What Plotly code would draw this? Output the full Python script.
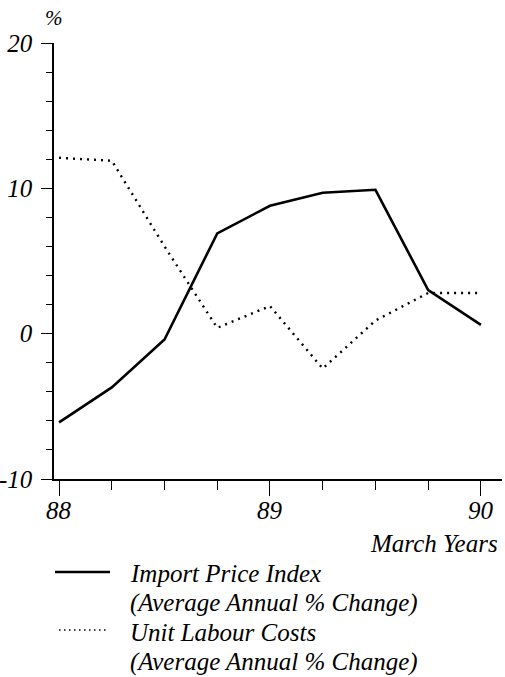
import plotly.graph_objects as go

# Data (quarterly, March years)
quarters = [88.0, 88.25, 88.5, 88.75, 89.0, 89.25, 89.5, 89.75, 90.0]
import_price_index = [-6.1, -3.7, -0.4, 6.9, 8.8, 9.7, 9.9, 3.0, 0.6]
unit_labour_costs = [12.1, 11.9, 6.0, 0.4, 1.9, -2.4, 0.9, 2.8, 2.8]

series_names = ["Import Price Index", "Unit Labour Costs"]
legend_sub = "(Average Annual % Change)"
y_tick_vals = [-10, 0, 10, 20]
y_tick_text = ["-10", "0", "10", "20"]
x_tick_vals = [88, 89, 90]
x_tick_text = ["88", "89", "90"]

FONT = "Liberation Serif"
W, H = 505, 677
ML, MR, MT, MB = 54, 3, 43, 198

fig = go.Figure()
fig.add_trace(go.Scatter(x=quarters, y=import_price_index, mode="lines",
                         line=dict(color="black", width=2.6), name=series_names[0],
                         showlegend=False))
fig.add_trace(go.Scatter(x=quarters, y=unit_labour_costs, mode="lines",
                         line=dict(color="black", width=2.4, dash="2px,5px"),
                         name=series_names[1], showlegend=False))

fig.update_layout(
    width=W, height=H,
    margin=dict(l=ML, r=MR, t=MT, b=MB, autoexpand=False),
    paper_bgcolor="white", plot_bgcolor="white",
    font=dict(family=FONT, color="black", size=25, style="italic"),
    xaxis=dict(range=[87.976, 90.1], showgrid=False, zeroline=False, automargin=False,
               showline=True, linecolor="black", linewidth=1.5,
               tickmode="array", tickvals=x_tick_vals, showticklabels=False,
               ticks="outside", ticklen=15, tickwidth=1.3, tickcolor="black",
               minor=dict(dtick=0.25, tick0=88, ticks="outside", ticklen=9,
                          tickwidth=1.3, tickcolor="black")),
    yaxis=dict(range=[-10, 20], showgrid=False, zeroline=False, automargin=False,
               showline=True, linecolor="black", linewidth=1.5,
               tickmode="array", tickvals=y_tick_vals, ticktext=y_tick_text,
               ticks="outside", ticklen=11, tickwidth=1.3, tickcolor="black",
               ticklabelstandoff=4,
               tickfont=dict(family=FONT, size=25, style="italic"),
               minor=dict(dtick=2, tick0=-10, ticks="outside", ticklen=6,
                          tickwidth=1.3, tickcolor="black")),
)

ph = H - MT - MB
pw = W - ML - MR

def px_x(x):
    return (x - ML) / pw

def px_y(y):
    return (H - MB - y) / ph

annotations = [
    dict(text="%", x=px_x(54), y=px_y(18), xref="paper", yref="paper",
         xanchor="center", yanchor="middle", showarrow=False,
         font=dict(size=21, family=FONT, style="italic")),
    dict(text="March Years", x=px_x(500), y=px_y(543), xref="paper", yref="paper",
         xanchor="right", yanchor="middle", showarrow=False,
         font=dict(size=25, family=FONT, style="italic")),
]
for tv, tt in zip(x_tick_vals, x_tick_text):
    annotations.append(dict(text=tt, x=tv, y=px_y(510), xref="x", yref="paper",
                            xanchor="center", yanchor="middle", showarrow=False,
                            font=dict(size=25, family=FONT, style="italic")))
legend_rows = [(series_names[0], 573, 603), (series_names[1], 632, 662)]
for name, y1, y2 in legend_rows:
    annotations.append(dict(text=name, x=px_x(128), y=px_y(y1), xref="paper", yref="paper",
                            xanchor="left", yanchor="middle", showarrow=False,
                            font=dict(size=25, family=FONT, style="italic")))
    annotations.append(dict(text=legend_sub, x=px_x(128), y=px_y(y2), xref="paper", yref="paper",
                            xanchor="left", yanchor="middle", showarrow=False,
                            font=dict(size=25, family=FONT, style="italic")))
fig.update_layout(annotations=annotations)

fig.add_shape(type="line", xref="paper", yref="paper",
              x0=px_x(55), x1=px_x(110), y0=px_y(572), y1=px_y(572),
              line=dict(color="black", width=2.4))
fig.add_shape(type="line", xref="paper", yref="paper",
              x0=px_x(59), x1=px_x(109), y0=px_y(630), y1=px_y(630),
              line=dict(color="black", width=1.5, dash="1.5px,3.5px"))

fig.write_html("out.html", config={"displayModeBar": False},
               post_script="document.body.style.margin='0';document.body.style.overflow='hidden';")
